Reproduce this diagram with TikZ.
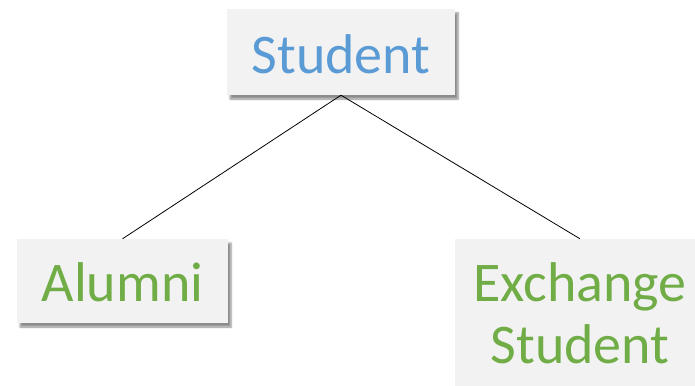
\documentclass[tikz,border=0pt]{standalone}
\usepackage{fontspec}
\setmainfont{Carlito}
\usetikzlibrary{shadows.blur}
\definecolor{boxfill}{HTML}{F2F2F2}
\definecolor{blueT}{HTML}{5B9BD5}
\definecolor{greenT}{HTML}{70AD47}
\tikzset{
  card/.style={rectangle, fill=boxfill, inner sep=0pt,
    blur shadow={shadow xshift=3pt, shadow yshift=-4pt, shadow blur steps=6, shadow opacity=45}},
  bigtext/.style={font=\fontsize{56}{62}\selectfont},
  link/.style={draw=black, line width=0.8pt}
}
\begin{document}
\begin{tikzpicture}[x=1pt,y=-1pt]
\useasboundingbox (0,0) rectangle (695,385);
\clip (0,0) rectangle (695,385);
\node[card, bigtext, text=blueT, minimum width=228pt, minimum height=86pt, text height=44pt, text depth=0pt] (student) at (341,52) {Student};
\node[card, bigtext, text=greenT, minimum width=211pt, minimum height=84pt, text height=40pt, text depth=0pt] (alumni) at (122.5,281) {Alumni};
\node[card, minimum width=250pt, minimum height=170pt] (exch) at (580,324) {};
\node[bigtext, text=greenT, anchor=base, inner sep=0pt] (ex1) at (580,301) {Exchange};
\node[bigtext, text=greenT, anchor=base, inner sep=0pt] (ex2) at (580,363) {Student};
\draw[link] (student.south) -- (alumni.north);
\draw[link] (student.south) -- (exch.north);
\end{tikzpicture}
\end{document}
